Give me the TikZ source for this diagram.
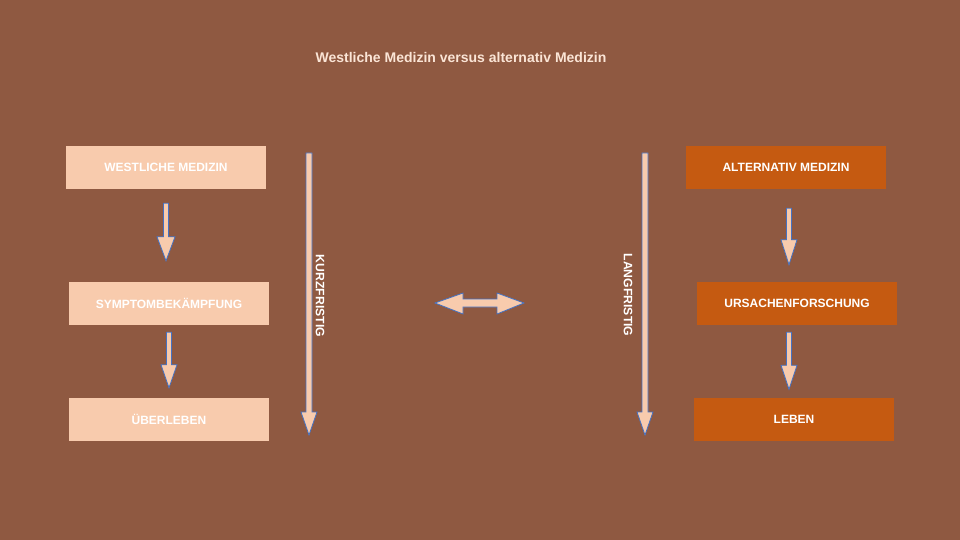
\documentclass[tikz,border=0pt]{standalone}
\usepackage{fontspec}
\setmainfont{Liberation Sans}
\usepackage{tikz}
\usetikzlibrary{positioning, calc}

\definecolor{bgbrown}{HTML}{8F5941}
\definecolor{peach}{HTML}{F8CBAD}
\definecolor{rust}{HTML}{C55A11}
\definecolor{edgeblue}{HTML}{4472C4}
\definecolor{titlepeach}{HTML}{FBE5D6}

% block arrow pointing down: top, bottom, half shaft, half head, head length
\newcommand{\downblock}[5]{%
  \draw[Arrowbox] ($(#1)+(-#3,0)$) -- ($(#2)+(-#3,-#5)$) -- ($(#2)+(-#4,-#5)$)
    -- (#2) -- ($(#2)+(#4,-#5)$) -- ($(#2)+(#3,-#5)$) -- ($(#1)+(#3,0)$) -- cycle;}

\begin{document}
\begin{tikzpicture}
  [
    x=1pt, y=-1pt,
    Box/.style={rectangle, minimum width=200pt, minimum height=43pt, inner sep=0pt,
      text=white, font=\bfseries\fontsize{12}{14}\selectfont},
    Light/.style={Box, fill=peach},
    Dark/.style={Box, fill=rust},
    Arrowbox/.style={fill=peach, draw=edgeblue, line width=0.8pt, line join=miter},
    Side/.style={text=white, font=\bfseries\fontsize{12.2}{14}\selectfont, rotate=-90}
  ]
  % Background
  \fill[bgbrown] (0,0) rectangle (960,540);
  \node[text=titlepeach, font=\bfseries\fontsize{14}{16}\selectfont] (title) at (461, 57)
    {Westliche Medizin versus alternativ Medizin};

  % Nodes
  \node[Light] (west) at (166, 167.5) {WESTLICHE MEDIZIN};
  \node[Light] (symp) at (169, 303.5) {SYMPTOMBEKÄMPFUNG};
  \node[Light] (ueber) at (169, 419.5) {ÜBERLEBEN};
  \node[Dark] (alt) at (786, 167.5) {ALTERNATIV MEDIZIN};
  \node[Dark] (ursa) at (797, 303.5) {URSACHENFORSCHUNG};
  \node[Dark] (leben) at (794, 419) {LEBEN};

  \node[Side] (kurz) at (320, 296) {KURZFRISTIG};
  \node[Side] (lang) at (628, 295) {LANGFRISTIG};

  % Arrows
  \coordinate (w1) at ($(west.south)+(0,14)$);
  \coordinate (w2) at ($(symp.north)+(-3,-21)$);
  \coordinate (s1) at ($(symp.south)+(0,7)$);
  \coordinate (s2) at ($(ueber.north)+(0,-10)$);
  \coordinate (a1) at ($(alt.south)+(3,19)$);
  \coordinate (a2) at ($(ursa.north)+(-8,-17)$);
  \coordinate (u1) at ($(ursa.south)+(-8,7)$);
  \coordinate (u2) at ($(leben.north)+(-5,-8)$);
  \downblock{w1}{w2}{2.5}{9}{24}
  \downblock{s1}{s2}{2.5}{8}{23}
  \downblock{a1}{a2}{2.5}{8}{25}
  \downblock{u1}{u2}{2.5}{8}{24}

  \coordinate (k1) at (309, 153);
  \coordinate (k2) at (309, 435);
  \coordinate (l1) at (645, 153);
  \coordinate (l2) at (645, 435);
  \downblock{k1}{k2}{3}{8}{23}
  \downblock{l1}{l2}{3}{8}{23}

  \coordinate (dl) at (435, 303);
  \coordinate (dr) at (524, 303);
  \draw[Arrowbox] (dl) -- ($(dl)+(28,-10)$) -- ($(dl)+(28,-4)$) -- ($(dr)+(-27,-4)$)
    -- ($(dr)+(-27,-10)$) -- (dr) -- ($(dr)+(-27,11)$) -- ($(dr)+(-27,4)$)
    -- ($(dl)+(28,4)$) -- ($(dl)+(28,11)$) -- cycle;

\end{tikzpicture}
\end{document}
